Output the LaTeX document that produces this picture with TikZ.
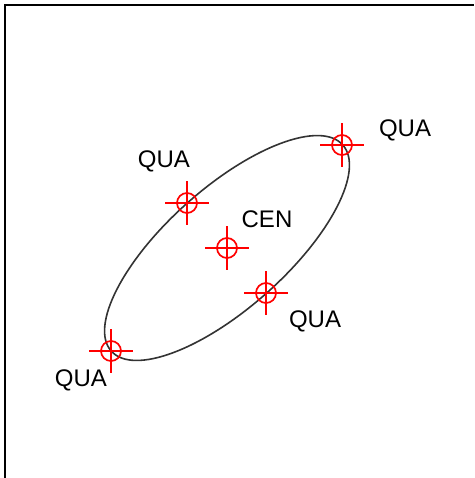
\documentclass[tikz,border=0pt]{standalone}
\usepackage{fontspec}
\setmainfont{Liberation Sans}
\usetikzlibrary{calc}

\tikzset{
  target/.style={red, line width=1.7pt},
  lbl/.style={anchor=base, inner sep=0pt, text=black, font=\fontsize{24}{28}\selectfont},
}

\begin{document}
\begin{tikzpicture}[x=1pt, y=1pt]
  \useasboundingbox (0,0) rectangle (474,478);
  % cadre (haut et gauche)
  \draw[line width=2.5pt, black] (5,0) -- (5,473) -- (474,473);
  % centre et points de quadrature
  \coordinate (cen) at (227,230);
  \coordinate (qne) at (342,333);
  \coordinate (qnw) at (187,275);
  \coordinate (qse) at (266,185);
  \coordinate (qsw) at (111,127);
  % ellipse
  \draw[black!80, line width=1.6pt, rotate around={41.7:(cen)}] (cen) ellipse (155pt and 60pt);
  % reticules
  \foreach \p in {cen,qne,qnw,qse,qsw}{
    \draw[target] (\p) circle (10pt);
    \draw[target] ($(\p)+(-22,0)$) -- ($(\p)+(22,0)$);
    \draw[target] ($(\p)+(0,-22)$) -- ($(\p)+(0,22)$);
  }
  \node[lbl] (tne) at (405,341) {QUA};
  \node[lbl] (tnw) at (164,310) {QUA};
  \node[lbl] (tcen) at (267,250) {CEN};
  \node[lbl] (tse) at (315,150) {QUA};
  \node[lbl] (tsw) at (81,91) {QUA};
\end{tikzpicture}
\end{document}
